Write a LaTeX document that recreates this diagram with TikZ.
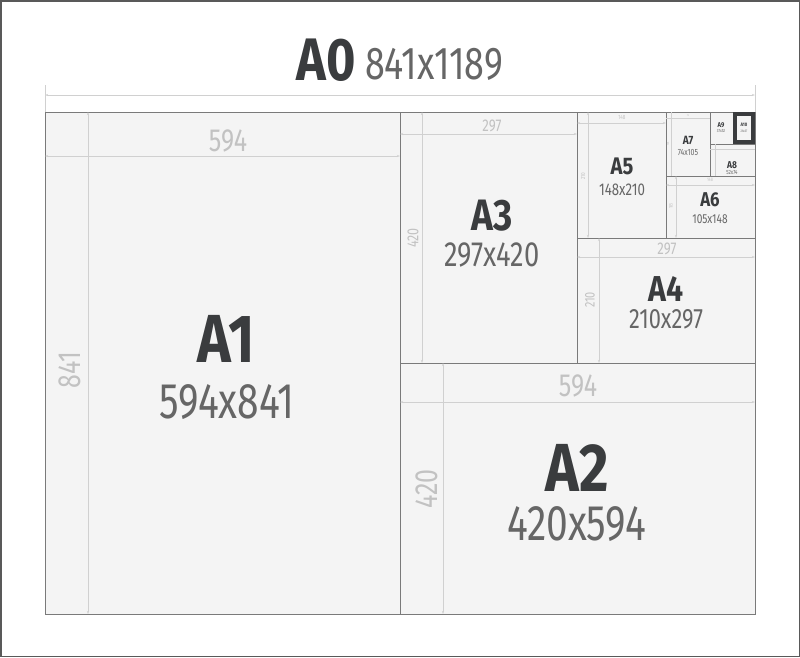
\documentclass[tikz,border=0pt]{standalone}
\usepackage{fontspec}
\setmainfont[FakeStretch=0.78]{Fira Sans}
\newfontfamily\lightfont[FakeStretch=0.78]{Fira Sans}
\newfontfamily\boldfamily[FakeStretch=0.84]{Fira Sans}
\newcommand{\heavyfont}{\boldfamily\bfseries}
\usetikzlibrary{arrows.meta}
\definecolor{paper}{HTML}{F4F4F4}
\definecolor{edge}{HTML}{7A7A7A}
\definecolor{dimline}{HTML}{D0D0D0}
\definecolor{dimtext}{HTML}{C2C2C2}
\definecolor{labeltext}{HTML}{3A3C3E}
\definecolor{sizetext}{HTML}{666666}
\newcommand{\setsz}[1]{\fontsize{#1}{#1}\selectfont}
\tikzset{
    sheet/.style={draw=edge, fill=paper, line width=0.9pt},
    dim/.style={draw=dimline, line width=0.8pt, {Stealth[length=3pt,width=2pt]}-{Stealth[length=3pt,width=2pt]}},
    dimlabel/.style={text=dimtext, inner sep=0pt, font=\lightfont\setsz{#1}},
    papername/.style={text=labeltext, inner sep=0pt, font=\heavyfont\setsz{#1}},
    papersize/.style={text=sizetext, inner sep=0pt, font=\lightfont\setsz{#1}},
}
\begin{document}
\begin{tikzpicture}[x=1pt, y=-1pt]
    \useasboundingbox (0,0) rectangle (800,657);
    \draw[draw=gray!70!black, line width=1.5pt] (0.75,0.75) rectangle (799.25,656.25);
    % A0 title and overall width
    \node[papername=60] (a0name) at (326,60) {A0};
    \node[papersize=46] (a0size) at (434,64) {841x1189};
    \draw[dimline, line width=0.8pt] (45,85) -- (45,112);
    \draw[dimline, line width=0.8pt] (755,85) -- (755,112);
    \draw[dim] (45,95) -- (755,95);
    % sheets
    \draw[sheet] (45,112) rectangle (400,614);
    \draw[sheet] (400,363) rectangle (755,614);
    \draw[sheet] (400,112) rectangle (577,363);
    \draw[sheet] (577,238) rectangle (755,363);
    \draw[sheet] (577,112) rectangle (666,238);
    \draw[sheet] (666,176) rectangle (755,238);
    \draw[sheet] (666,112) rectangle (710,176);
    \draw[sheet] (710,144) rectangle (755,176);
    \draw[sheet] (710,112) rectangle (733,144);
    \draw[sheet] (733,112) rectangle (755,144);
    \draw[draw=labeltext, line width=3.5pt] (735,114) rectangle (753,142);
    % A1
    \draw[dim] (45,156) -- (400,156);
    \draw[dim] (88,112) -- (88,614);
    \node[dimlabel=32] (a1w) at (228,141) {594};
    \node[dimlabel=32, rotate=90] (a1h) at (70,370) {841};
    \node[papername=68] (a1name) at (226,339) {A1};
    \node[papersize=50] (a1size) at (227,402) {594x841};
    % A2
    \draw[dim] (400,402) -- (755,402);
    \draw[dim] (443,363) -- (443,614);
    \node[dimlabel=32] (a2w) at (578,386) {594};
    \node[dimlabel=32, rotate=90] (a2h) at (427,489) {420};
    \node[papername=68] (a2name) at (577,468) {A2};
    \node[papersize=50] (a2size) at (577,524) {420x594};
    % A3
    \draw[dim] (400,134) -- (577,134);
    \draw[dim] (422,112) -- (422,363);
    \node[dimlabel=17] (a3w) at (492,126) {297};
    \node[dimlabel=16, rotate=90] (a3h) at (413,238) {420};
    \node[papername=44] (a3name) at (492,216) {A3};
    \node[papersize=35] (a3size) at (492,255) {297x420};
    % A4
    \draw[dim] (577,257) -- (755,257);
    \draw[dim] (599,238) -- (599,363);
    \node[dimlabel=17] (a4w) at (667,249) {297};
    \node[dimlabel=14, rotate=90] (a4h) at (590,300) {210};
    \node[papername=36] (a4name) at (666,289) {A4};
    \node[papersize=28] (a4size) at (666,319) {210x297};
    % A5
    \draw[dim] (577,123) -- (666,123);
    \draw[dim] (588,112) -- (588,238);
    \node[dimlabel=6] (a5w) at (622,117) {148};
    \node[dimlabel=6, rotate=90] (a5h) at (583,176) {210};
    \node[papername=24] (a5name) at (622,166) {A5};
    \node[papersize=17] (a5size) at (622,190) {148x210};
    % A6
    \draw[dim] (666,185) -- (755,185);
    \draw[dim] (676,176) -- (676,238);
    \node[dimlabel=5] (a6w) at (710,180) {148};
    \node[dimlabel=5, rotate=90] (a6h) at (671,206) {105};
    \node[papername=20] (a6name) at (710,200) {A6};
    \node[papersize=13] (a6size) at (710,219) {105x148};
    % A7
    \draw[dimline, line width=0.5pt] (666,118) -- (710,118);
    \draw[dimline, line width=0.5pt] (671,112) -- (671,176);
    \node[dimlabel=3] (a7w) at (688,115) {74};
    \node[dimlabel=3, rotate=90] (a7h) at (668,144) {105};
    \node[papername=12] (a7name) at (688,140) {A7};
    \node[papersize=9] (a7size) at (688,152) {74x105};
    % A8
    \draw[dimline, line width=0.5pt] (710,149) -- (755,149);
    \draw[dimline, line width=0.5pt] (715,144) -- (715,176);
    \node[papername=10] (a8name) at (732,165) {A8};
    \node[papersize=6] (a8size) at (732,172) {52x74};
    % A9 and A10
    \node[papername=7] (a9name) at (721,125) {A9};
    \node[papersize=4.5] (a9size) at (721,131) {37x52};
    \node[papername=5] (a10name) at (744,125) {A10};
    \node[papersize=3.5] (a10size) at (744,131) {26x37};
\end{tikzpicture}
\end{document}
